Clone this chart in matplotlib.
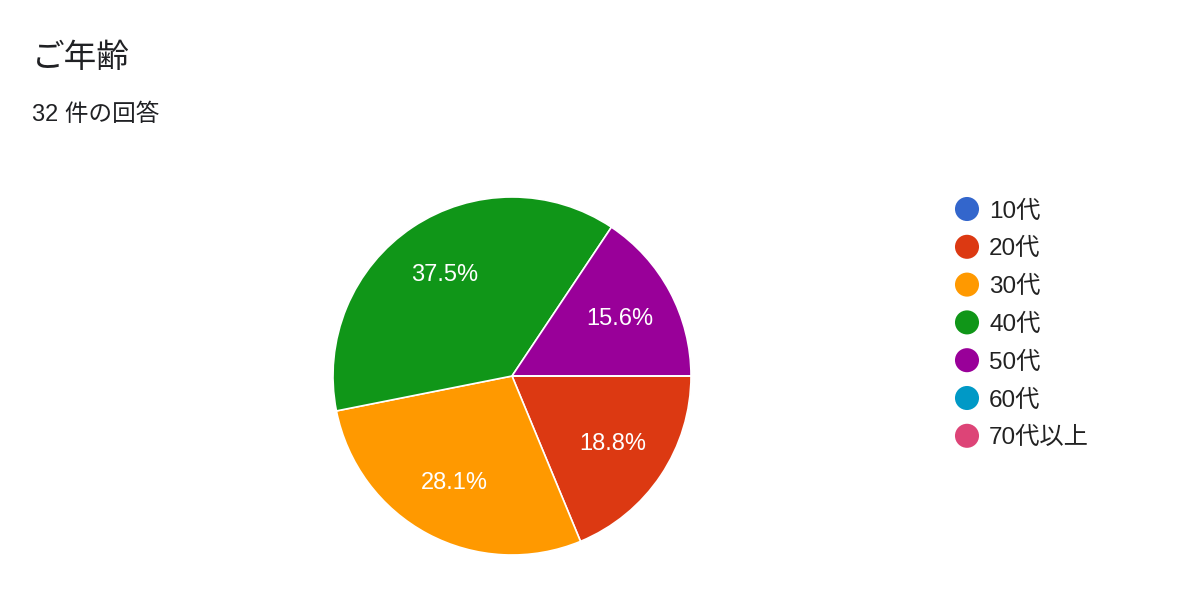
import matplotlib.pyplot as plt

# data
labels = ['10代', '20代', '30代', '40代', '50代', '60代', '70代以上']
counts = [0, 6, 9, 12, 5, 0, 0]
colors = ['#3366cc', '#dc3912', '#ff9900', '#109618', '#990099', '#0099c6', '#dd4477']
title = 'ご年齢'
subtitle = '32 件の回答'

FONT = ['Liberation Sans', 'Noto Sans CJK JP', 'DejaVu Sans']
plt.rcParams['font.family'] = FONT

W, H = 1186, 614
fig = plt.figure(figsize=(W / 100, H / 100), dpi=100)
fig.patch.set_facecolor('white')

# pie: center (512, 376) px, radius 179 px
cx, cy, r = 512, 376, 179
ax = fig.add_axes([(cx - r) / W, (H - cy - r) / H, 2 * r / W, 2 * r / H])


def pct(p):
    return '' if p < 0.05 else '%.1f%%' % p


wedges, texts, autotexts = ax.pie(
    counts, colors=colors, startangle=0, counterclock=False,
    autopct=pct, pctdistance=0.68,
    wedgeprops=dict(edgecolor='white', linewidth=1.2),
    textprops=dict(color='white', fontsize=17))
ax.set_xlim(-1, 1)
ax.set_ylim(-1, 1)
ax.set_aspect('equal')

# overlay in pixel coords for title and legend
ov = fig.add_axes([0, 0, 1, 1])
ov.set_xlim(0, W)
ov.set_ylim(H, 0)
ov.axis('off')
ov.patch.set_alpha(0)

ov.text(32, 59, title, fontsize=23.5, color='#202124', va='center', ha='left')
ov.text(32, 115, subtitle, fontsize=17, color='#202124', va='center', ha='left')

y0, dy = 209, 37.8
for i, (lab, col) in enumerate(zip(labels, colors)):
    y = y0 + i * dy
    ov.scatter([967], [y], s=300, color=col, edgecolor='none')
    ov.text(989, y + 2.5, lab, fontsize=17.5, color='#222222', va='center', ha='left')

fig.savefig('out.png', dpi=100)
